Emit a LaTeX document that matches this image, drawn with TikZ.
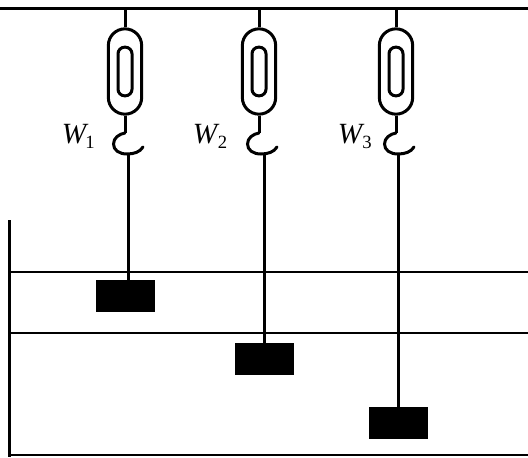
\documentclass[tikz,border=0pt]{standalone}
\usepackage{fontspec}
\setmainfont{Liberation Serif}
\tikzset{
  wire/.style={line width=2.25pt},
  thin wire/.style={line width=1.8pt},
  shell/.style={draw,line width=2.25pt,rounded corners=12.5pt,minimum width=25pt,minimum height=64pt,inner sep=0pt},
  core/.style={draw,line width=2.25pt,rounded corners=5pt,minimum width=10.5pt,minimum height=36.5pt,inner sep=0pt},
  weight/.style={fill=black,minimum width=44pt,minimum height=24pt,inner sep=0pt},
  lbl/.style={inner sep=0pt,font=\fontsize{22}{24}\selectfont\itshape},
  sublbl/.style={inner sep=0pt,font=\fontsize{14}{16}\selectfont}
}
\newcommand{\gauge}[2]{%
  \node[shell] (s#1) at (#2,71.5) {};
  \node[core] (c#1) at (#2,71.5) {};
  \coordinate (t#1) at (#2,8);
  \draw[wire] (t#1) -- (s#1.north);
  \coordinate (h#1) at (#2,133);
  \draw[wire] (s#1.south) -- (h#1);
  \draw[wire,line cap=round,shift={(#2,0)}] (0,133) .. controls (-6,134) and (-11.5,138) .. (-11.5,144)
     .. controls (-11.5,150) and (-6,154) .. (2,154)
     .. controls (9,154) and (15,152) .. (18,147);
}
\begin{document}
\begin{tikzpicture}[x=0.75pt,y=-0.75pt]
\useasboundingbox (0,0) rectangle (528,457);
\coordinate (tl) at (0,8); \coordinate (tr) at (528,8);
\draw[wire] (tl) -- (tr);
\gauge{1}{125}
\gauge{2}{259}
\gauge{3}{396}
\node[lbl] (w1t) at (74,134) {W};
\node[lbl] (w2t) at (205,134) {W};
\node[lbl] (w3t) at (350,134) {W};
\node[sublbl] (n1) at (90,142) {1};
\node[sublbl] (n2) at (222.5,142) {2};
\node[sublbl] (n3) at (367,142) {3};
\node[weight] (b1) at (125.5,296) {};
\node[weight] (b2) at (264.5,359) {};
\node[weight] (b3) at (398.5,423) {};
\coordinate (a1) at (128,154); \coordinate (a2) at (264,154); \coordinate (a3) at (398.5,154);
\draw[wire] (a1) -- (a1|-b1.north);
\draw[wire] (a2) -- (a2|-b2.north);
\draw[wire] (a3) -- (a3|-b3.north);
\coordinate (v0) at (9,220); \coordinate (v1) at (9,457);
\draw[wire] (v0) -- (v1);
\coordinate (w1) at (9,272); \coordinate (w2) at (9,333); \coordinate (w3) at (9,455);
\draw[thin wire] (w1) -- (528,272);
\draw[thin wire] (w2) -- (528,333);
\draw[thin wire] (w3) -- (528,455);
\end{tikzpicture}
\end{document}
